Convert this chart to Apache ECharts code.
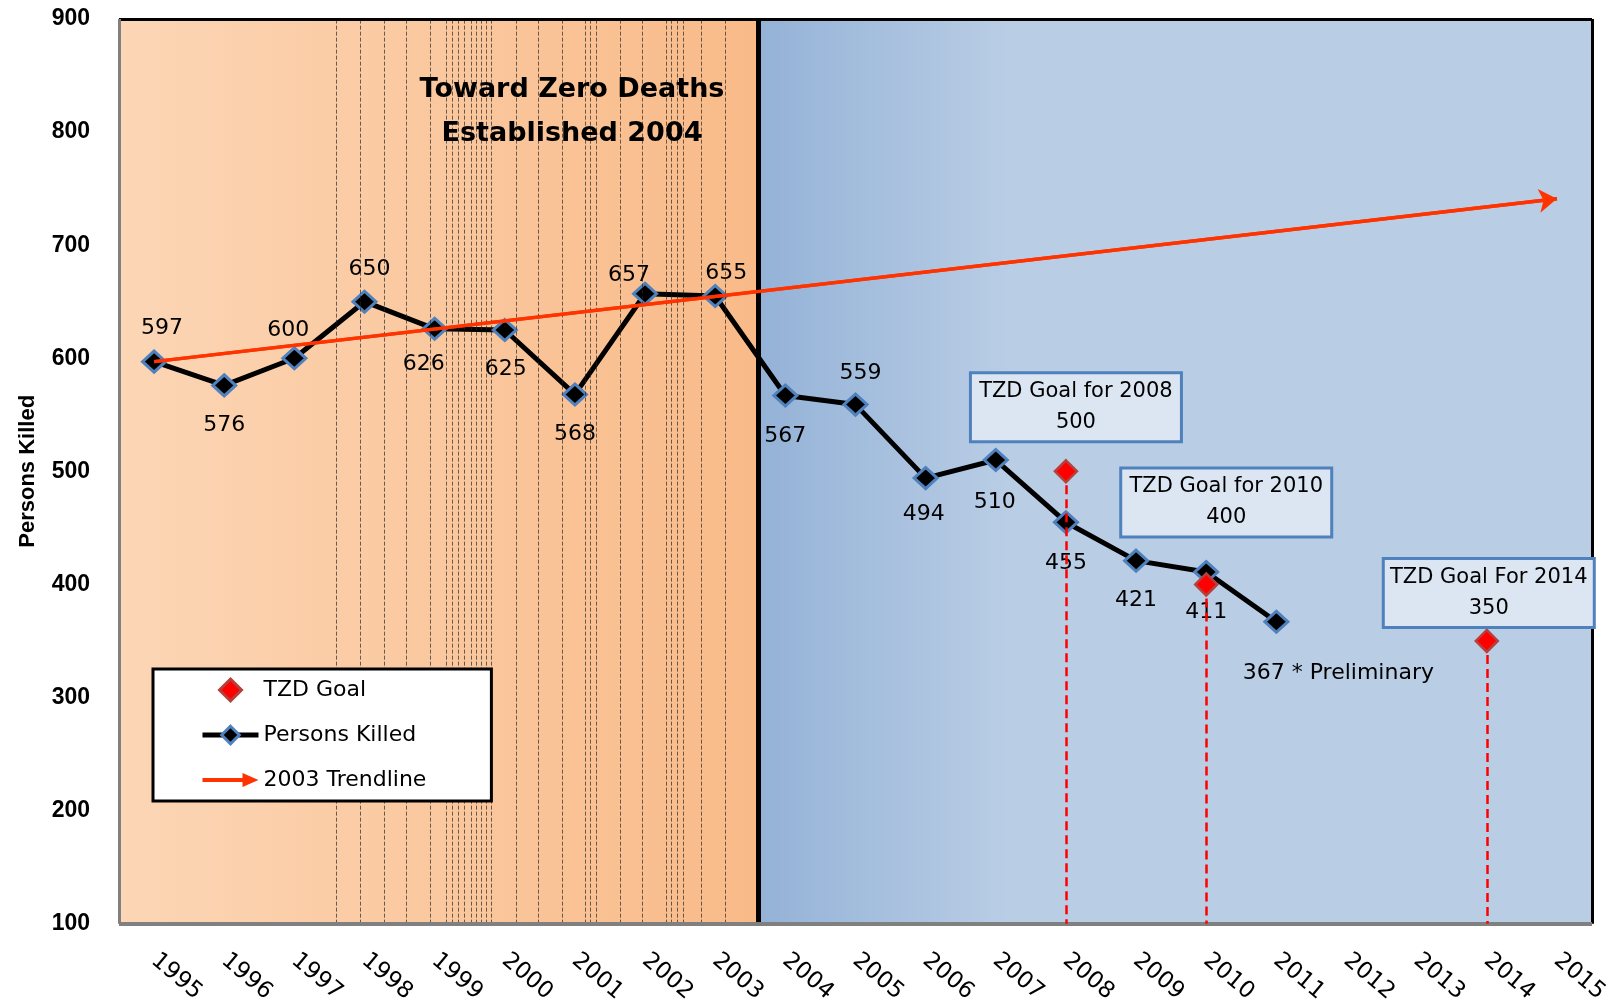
<!DOCTYPE html>
<html>
<head>
<meta charset="utf-8">
<script src="https://cdn.jsdelivr.net/npm/echarts@6/dist/echarts.min.js"></script>
<style>html,body{margin:0;padding:0;background:#fff}#c{width:1623px;height:1006px}</style>
</head>
<body>
<div id="c"></div>
<script>
// ---- data ----
const years = ['1995','1996','1997','1998','1999','2000','2001','2002','2003','2004','2005','2006','2007','2008','2009','2010','2011','2012','2013','2014','2015'];
const killedYears = ['1995','1996','1997','1998','1999','2000','2001','2002','2003','2004','2005','2006','2007','2008','2009','2010','2011'];
const personsKilled = [597,576,600,650,626,625,568,657,655,567,559,494,510,455,421,411,367];
const preliminaryNote = '* Preliminary';
const goalYears = ['2008','2010','2014'];
const goalValues = [500,400,350];
const goalTitles = ['TZD Goal for 2008','TZD Goal for 2010','TZD Goal For 2014'];
const trendYears = ['1995','2015'];
const trendValues = [597,741];
const yMin = 100, yMax = 900, yStep = 100;
// era boundary and decorative dashed rules, in category-index units
const eraBoundary = 8.62;
const ruleLines = [2.60,2.94,3.28,3.59,3.94,4.16,4.25,4.34,4.42,4.52,4.59,4.66,4.74,4.81,5.16,5.48,5.82,6.15,6.22,6.30,6.65,6.96,7.30,7.37,7.46,7.55,7.80,8.14];

// ---- styling (not data) ----
const killedLabelOffsets = [[8,-33],[0,40],[-6,-28],[5,-32],[-11,35],[1,39],[0,40],[-16,-19],[11,-23],[0,41],[5,-31],[-2,36],[-1,42],[0,41],[0,40],[0,40],[62,52]];
const goalLabelOffsets = [[10,-64],[20,-82],[2,-48]];

const FONT = '"DejaVu Sans", Verdana, sans-serif';
const BOLDFONT = '"Liberation Sans", Arial, sans-serif';
const idx = y => years.indexOf(y);
const xLo = -0.5, xHi = years.length - 0.5;

const chart = echarts.init(document.getElementById('c'), null, {renderer: 'canvas'});

const option = {
  animation: false,
  backgroundColor: '#fff',
  grid: {left: 119, right: 31, top: 19, bottom: 82, containLabel: false},
  xAxis: [
    {
      type: 'category', data: years, boundaryGap: true,
      axisLine: {show: false}, axisTick: {show: false}, splitLine: {show: false},
      axisLabel: {interval: 0, rotate: -40, margin: 34, fontSize: 23, fontFamily: FONT, color: '#000'}
    },
    {type: 'value', min: xLo, max: xHi, show: false}
  ],
  yAxis: {
    type: 'value', min: yMin, max: yMax, interval: yStep,
    splitLine: {show: false}, axisTick: {show: false}, axisLine: {show: false},
    axisLabel: {margin: 29, fontSize: 23, fontWeight: 'bold', fontFamily: BOLDFONT, color: '#000'},
    name: 'Persons Killed', nameLocation: 'middle', nameGap: 80,
    nameTextStyle: {fontSize: 22, fontWeight: 'bold', fontFamily: BOLDFONT, color: '#000'}
  },
  legend: {
    orient: 'vertical', left: 153, top: 669, selectedMode: false, z: 20,
    backgroundColor: '#fff', borderColor: '#000', borderWidth: 3, borderRadius: 0,
    padding: [8, 65, 8, 47], itemGap: 19, itemWidth: 56, itemHeight: 22,
    textStyle: {fontFamily: FONT, fontSize: 22, color: '#000', lineHeight: 26},
    data: [
      {name: 'TZD Goal', icon: 'path://M10,0L20,10L10,20L0,10Z', itemStyle: {color: '#FF0000', borderColor: '#B5403C', borderWidth: 3}},
      {name: 'Persons Killed', lineStyle: {color: '#000', width: 5}, itemStyle: {color: '#000', borderColor: '#4F81BD', borderWidth: 3}},
      {name: '2003 Trendline', icon: 'path://M0,7L40,7L40,2L56,9L40,16L40,11L0,11Z', itemStyle: {color: '#FF3300', borderWidth: 0}}
    ]
  },
  graphic: [{
    type: 'text', x: 572, y: 112, z: 10,
    style: {text: 'Toward Zero Deaths\nEstablished 2004', fill: '#000', font: 'bold 27px "DejaVu Sans", Verdana, sans-serif', align: 'center', verticalAlign: 'middle', lineHeight: 43.5}
  }],
  series: [
    {
      name: 'bg', type: 'line', xAxisIndex: 1, data: [], z: 1, silent: true,
      markArea: {
        silent: true,
        data: [
          [{xAxis: xLo, yAxis: yMin, itemStyle: {color: new echarts.graphic.LinearGradient(0,0,1,0,[{offset:0,color:'#FCD6B6'},{offset:0.25,color:'#FBCFAA'},{offset:1,color:'#F9BA88'}])}}, {xAxis: eraBoundary, yAxis: yMax}],
          [{xAxis: eraBoundary, yAxis: yMin, itemStyle: {color: new echarts.graphic.LinearGradient(0,0,1,0,[{offset:0,color:'#94B2D7'},{offset:0.3,color:'#B9CDE5'},{offset:1,color:'#B9CDE5'}])}}, {xAxis: xHi, yAxis: yMax}]
        ]
      }
    },
    {
      name: 'frame', type: 'line', xAxisIndex: 1, data: [], z: 2, silent: true, clip: false,
      markLine: {
        silent: true, symbol: 'none', label: {show: false},
        data: ruleLines.map(v => ({xAxis: v, lineStyle: {color: '#222', width: 0.8, type: [4, 2], opacity: 0.85}}))
          .concat([
            {xAxis: eraBoundary, lineStyle: {color: '#000', width: 5, type: 'solid'}},
            [{coord: [xLo, yMax], lineStyle: {color: '#000', width: 3, type: 'solid'}}, {coord: [xHi, yMax]}],
            [{coord: [xHi, yMin], lineStyle: {color: '#000', width: 3, type: 'solid'}}, {coord: [xHi, yMax]}],
            [{coord: [xLo, yMin], lineStyle: {color: '#808080', width: 4, type: 'solid'}}, {coord: [xHi, yMin]}],
            [{coord: [xLo, yMin], lineStyle: {color: '#808080', width: 3, type: 'solid'}}, {coord: [xLo, yMax]}]
          ])
      }
    },
    {
      name: 'Persons Killed', type: 'line', xAxisIndex: 1, z: 3,
      data: personsKilled.map((v, i) => ({
        value: [idx(killedYears[i]), v],
        label: {offset: killedLabelOffsets[i]}
      })),
      lineStyle: {color: '#000', width: 5},
      symbol: 'diamond', symbolSize: [23, 21],
      itemStyle: {color: '#000', borderColor: '#4F81BD', borderWidth: 3},
      label: {
        show: true, position: 'inside', fontSize: 22, fontFamily: FONT, color: '#000',
        formatter: p => p.dataIndex === personsKilled.length - 1 ? personsKilled[p.dataIndex] + ' ' + preliminaryNote : String(personsKilled[p.dataIndex])
      }
    },
    {
      name: '2003 Trendline', type: 'line', xAxisIndex: 1, z: 4,
      data: trendValues.map((v, i) => [idx(trendYears[i]), v]),
      showSymbol: false, symbol: 'none',
      lineStyle: {color: '#FF3300', width: 3.5},
      itemStyle: {color: '#FF3300', borderWidth: 0},
      markLine: {
        silent: true, symbol: ['none', 'arrow'], symbolSize: 18, label: {show: false},
        lineStyle: {color: '#FF3300', width: 3.5, type: 'solid'},
        data: [[{coord: [idx(trendYears[0]), trendValues[0]]}, {coord: [idx(trendYears[1]), trendValues[1]]}]]
      }
    },
    {
      name: 'TZD Goal', type: 'scatter', xAxisIndex: 1, z: 5,
      data: goalValues.map((v, i) => ({value: [idx(goalYears[i]), v], label: {offset: goalLabelOffsets[i]}})),
      symbol: 'diamond', symbolSize: 22,
      itemStyle: {color: '#FF0000', borderColor: '#B5403C', borderWidth: 2.5, opacity: 1},
      label: {
        show: true, position: 'inside',
        formatter: p => goalTitles[p.dataIndex] + '\n' + goalValues[p.dataIndex],
        fontSize: 21, fontFamily: FONT, color: '#000', lineHeight: 31, align: 'center',
        width: 200, backgroundColor: '#DCE6F2', borderColor: '#4F81BD', borderWidth: 3, padding: [2, 4]
      },
      markLine: {
        silent: true, symbol: 'none', label: {show: false},
        lineStyle: {color: '#FF0000', width: 2.5, type: [9, 5]},
        data: goalValues.map((v, i) => [{coord: [idx(goalYears[i]), v]}, {coord: [idx(goalYears[i]), yMin]}])
      }
    }
  ]
};
chart.setOption(option);
</script>
</body>
</html>
